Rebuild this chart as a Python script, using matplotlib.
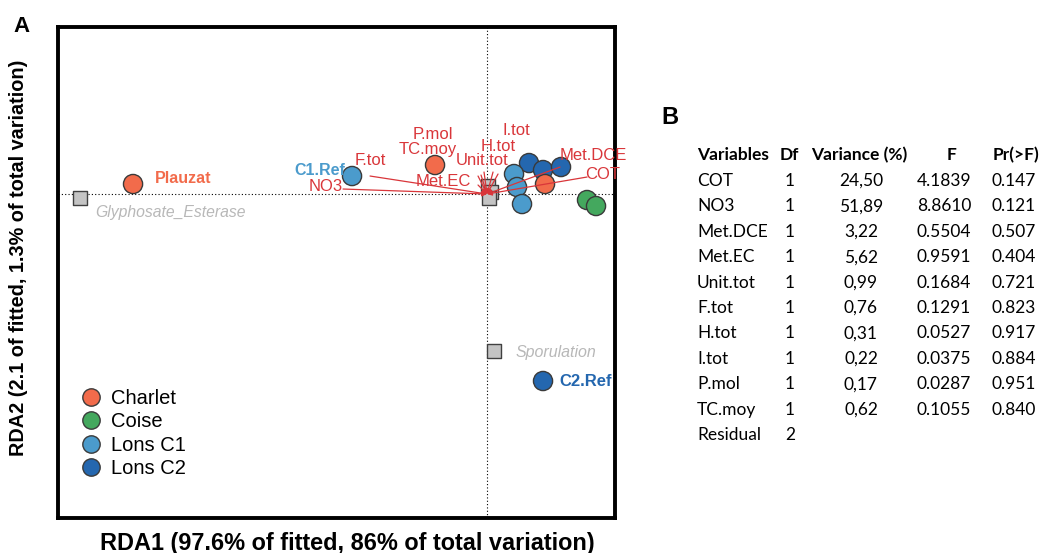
import matplotlib.pyplot as plt
from matplotlib.lines import Line2D

plt.rcParams['font.family'] = ['Liberation Sans', 'DejaVu Sans']

# site scores (RDA1, RDA2)
site_x = [-3.54, -1.35, -0.52, 0.42, 0.56, 0.74, 0.27, 0.30, 0.58, 0.35, 1.00, 1.09, 0.56]
site_y = [0.10, 0.18, 0.29, 0.31, 0.24, 0.27, 0.20, 0.07, 0.10, -0.10, -0.06, -0.12, -1.87]
site_grp = ['Charlet', 'Lons C1', 'Charlet', 'Lons C2', 'Lons C2', 'Lons C2', 'Lons C1',
            'Lons C1', 'Charlet', 'Lons C1', 'Coise', 'Coise', 'Lons C2']
site_name = ['Plauzat', 'C1.Ref', '', '', '', '', '', '', '', '', '', '', 'C2.Ref']

# response scores (squares)
resp_x = [-4.07, 0.07, 0.01, 0.04, 0.02]
resp_y = [-0.04, -1.57, 0.08, 0.02, -0.04]
resp_name = ['Glyphosate_Esterase', 'Sporulation', '', '', '']

# explanatory variables (arrow tips)
env_name = ['NO3', 'F.tot', 'Met.EC', 'Unit.tot', 'P.mol', 'TC.moy', 'H.tot', 'I.tot', 'Met.DCE', 'COT']
env_x = [-1.44, -1.17, -0.09, -0.03, -0.06, -0.09, 0.06, 0.11, 0.73, 1.00]
env_y = [0.05, 0.18, 0.09, 0.22, 0.19, 0.18, 0.22, 0.20, 0.27, 0.17]

# table B
tab_var = ['COT', 'NO3', 'Met.DCE', 'Met.EC', 'Unit.tot', 'F.tot', 'H.tot', 'I.tot', 'P.mol', 'TC.moy', 'Residual']
tab_df = ['1', '1', '1', '1', '1', '1', '1', '1', '1', '1', '2']
tab_varp = ['24,50', '51,89', '3,22', '5,62', '0,99', '0,76', '0,31', '0,22', '0,17', '0,62', '']
tab_f = ['4.1839', '8.8610', '0.5504', '0.9591', '0.1684', '0.1291', '0.0527', '0.0375', '0.0287', '0.1055', '']
tab_p = ['0.147', '0.121', '0.507', '0.404', '0.721', '0.823', '0.917', '0.884', '0.951', '0.840', '']

colors = {'Charlet': '#F26B4B', 'Coise': '#44A85E', 'Lons C1': '#4B9BCC', 'Lons C2': '#2467AF'}
red = '#D9363A'

fig = plt.figure(figsize=(10.44, 5.53), dpi=100)
ax = fig.add_axes([0.0556, 0.0633, 0.5335, 0.8878])
ax.set_xlim(-4.29, 1.28)
ax.set_ylim(-3.24, 1.67)
ax.set_xticks([])
ax.set_yticks([])
for s in ax.spines.values():
    s.set_linewidth(2.8)
ax.axhline(0, color='black', ls=(0, (1, 2)), lw=0.8, zorder=1)
ax.axvline(0, color='black', ls=(0, (1, 2)), lw=0.8, zorder=1)

ax.scatter(resp_x, resp_y, marker='s', s=110, color='#C4C4C4', edgecolors='#404040', linewidths=1, zorder=2)
ax.scatter(site_x, site_y, s=190, c=[colors[g] for g in site_grp], edgecolors='#3a3a3a', linewidths=1, zorder=3)

# arrows drawn tip -> origin as in the original figure
for n, x, y in zip(env_name, env_x, env_y):
    ax.annotate('', xy=(0, 0), xytext=(x, y),
                arrowprops=dict(arrowstyle='-|>', color=red, lw=0.9, mutation_scale=7,
                                shrinkA=0, shrinkB=0), zorder=4)

# labels
lab = dict(fontsize=12, color=red, zorder=5)
ax.text(-1.44, 0.08, 'NO3', ha='right', va='center', **lab)
ax.text(-1.32, 0.34, 'F.tot', ha='left', va='center', **lab)
ax.text(-0.44, 0.13, 'Met.EC', ha='center', va='center', **lab)
ax.text(-0.05, 0.34, 'Unit.tot', ha='center', va='center', **lab)
ax.text(-0.54, 0.60, 'P.mol', ha='center', va='center', **lab)
ax.text(-0.59, 0.45, 'TC.moy', ha='center', va='center', **lab)
ax.text(0.11, 0.48, 'H.tot', ha='center', va='center', **lab)
ax.text(0.29, 0.64, 'I.tot', ha='center', va='center', **lab)
ax.text(0.73, 0.39, 'Met.DCE', ha='left', va='center', **lab)
ax.text(0.98, 0.20, 'COT', ha='left', va='center', **lab)

ax.text(-3.32, 0.16, site_name[0], ha='left', va='center', fontsize=11.5, fontweight='bold', color=colors['Charlet'])
ax.text(-1.42, 0.24, site_name[1], ha='right', va='center', fontsize=11.5, fontweight='bold', color=colors['Lons C1'])
ax.text(0.72, -1.87, site_name[12], ha='left', va='center', fontsize=12, fontweight='bold', color=colors['Lons C2'])
ax.text(-3.92, -0.18, resp_name[0], ha='left', va='center', fontsize=11.3, style='italic', color='#B8B8B8')
ax.text(0.29, -1.58, resp_name[1], ha='left', va='center', fontsize=11.5, style='italic', color='#B8B8B8')

handles = [Line2D([], [], marker='o', ls='', markersize=12.5, markerfacecolor=colors[g],
                  markeredgecolor='#3a3a3a', label=g) for g in colors]
ax.legend(handles=handles, loc='lower left', bbox_to_anchor=(0.008, 0.065), frameon=False,
          fontsize=14.5, handletextpad=0.0, labelspacing=0.22, borderaxespad=0)

ax.set_xlabel('RDA1 (97.6% of fitted, 86% of total variation)', fontsize=16.9, fontweight='bold')
ax.xaxis.set_label_coords(0.52, -0.028, transform=ax.transAxes)
ax.xaxis.label.set_va('top')
ax.set_ylabel('RDA2 (2.1 of fitted, 1.3% of total variation)', fontsize=14.3, fontweight='bold')
ax.yaxis.set_label_coords(-0.054, 0.53)

fig.text(22 / 1044, 1 - 26 / 553, 'A', fontsize=16, fontweight='bold', ha='center', va='center')
fig.text(670 / 1044, 1 - 118 / 553, 'B', fontsize=17, fontweight='bold', ha='center', va='center')

# table
tf = dict(family=['Lato', 'DejaVu Sans'], fontsize=12.5, va='center')
y0 = 155
fig.text(697 / 1044, 1 - y0 / 553, 'Variables', ha='left', fontweight='bold', **tf)
fig.text(789 / 1044, 1 - y0 / 553, 'Df', ha='center', fontweight='bold', **tf)
fig.text(859 / 1044, 1 - y0 / 553, 'Variance (%)', ha='center', fontweight='bold', **tf)
fig.text(952 / 1044, 1 - y0 / 553, 'F', ha='center', fontweight='bold', **tf)
fig.text(1016 / 1044, 1 - y0 / 553, 'Pr(>F)', ha='center', fontweight='bold', **tf)
for i in range(len(tab_var)):
    yy = 1 - (181 + i * 25.4) / 553
    fig.text(697 / 1044, yy, tab_var[i], ha='left', **tf)
    fig.text(790 / 1044, yy, tab_df[i], ha='center', **tf)
    fig.text(861 / 1044, yy, tab_varp[i], ha='center', **tf)
    fig.text(944 / 1044, yy, tab_f[i], ha='center', **tf)
    fig.text(1014 / 1044, yy, tab_p[i], ha='center', **tf)

fig.savefig('out.png', dpi=100)
